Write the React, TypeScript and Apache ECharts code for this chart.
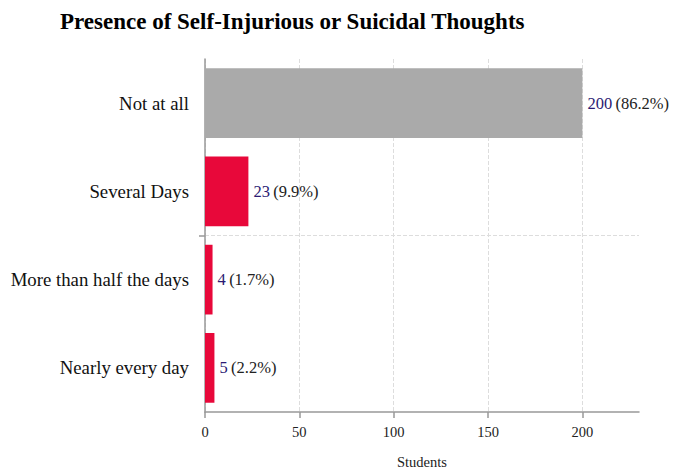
import React, { useEffect, useRef } from "react";
import * as echarts from "echarts";

const titleText = "Presence of Self-Injurious or Suicidal Thoughts";
const categories = ["Not at all", "Several Days", "More than half the days", "Nearly every day"];
const counts = [200, 23, 4, 5];
const percents = ["86.2%", "9.9%", "1.7%", "2.2%"];
const barColors = ["#aaaaaa", "#e8083a", "#e8083a", "#e8083a"];
const xTicks = [0, 50, 100, 150, 200];
const xMax = 230;
const xAxisName = "Students";

const FONT = "'Liberation Serif', 'Times New Roman', serif";

export default function App() {
  const ref = useRef<HTMLDivElement>(null);
  useEffect(() => {
    if (!ref.current) return;
    const chart = echarts.init(ref.current, undefined, { renderer: "svg" });
    chart.setOption({
      animation: false,
      backgroundColor: "#ffffff",
      title: {
        text: titleText,
        left: 55,
        top: 5,
        textStyle: { fontFamily: FONT, fontSize: 23, fontWeight: "bold", color: "#000" },
      },
      grid: { left: 205, right: 34, top: 59, bottom: 58, containLabel: false, outerBoundsMode: "none" },
      xAxis: {
        type: "value",
        min: 0,
        max: xMax,
        interval: 50,
        name: xAxisName,
        nameLocation: "middle",
        nameGap: 42,
        nameTextStyle: { fontFamily: FONT, fontSize: 14.5, color: "#222" },
        axisLine: { show: true, lineStyle: { color: "#999", width: 1.5 } },
        axisTick: { show: true, length: 6, customValues: xTicks, lineStyle: { color: "#999", width: 1.5 } },
        axisLabel: { fontFamily: FONT, fontSize: 14.5, color: "#222", margin: 12, customValues: xTicks },
        splitLine: { show: true, lineStyle: { color: "#dddddd", type: "dashed", width: 1 } },
      },
      yAxis: [
        {
          type: "category",
          data: categories,
          inverse: true,
          axisLine: { show: true, lineStyle: { color: "#999", width: 1.5 } },
          axisTick: { show: false },
          axisLabel: { fontFamily: FONT, fontSize: 18.8, color: "#111", margin: 16, padding: [0, 0, 6, 0] },
          splitLine: { show: false },
        },
        {
          type: "value",
          position: "left",
          min: 0,
          max: 2,
          interval: 2,
          axisLine: { show: false },
          axisLabel: { show: false },
          axisTick: { show: false },
          splitLine: { show: false },
          minorTick: { show: true, splitNumber: 2, length: 6, lineStyle: { color: "#999", width: 1.5 } },
          minorSplitLine: { show: true, lineStyle: { color: "#dddddd", type: "dashed", width: 1 } },
        },
      ],
      series: [
        {
          type: "bar",
          xAxisIndex: 0,
          yAxisIndex: 0,
          barWidth: "79%",
          data: counts.map((v, i) => ({ value: v, itemStyle: { color: barColors[i] } })),
          label: {
            show: true,
            position: "right",
            distance: 5,
            formatter: (p: any) => `{n|${p.value}} {p|(${percents[p.dataIndex]})}`,
            rich: {
              n: { fontFamily: FONT, fontSize: 16.5, color: "#2b1a73" },
              p: { fontFamily: FONT, fontSize: 16.5, color: "#222" },
            },
          },
        },
      ],
    });
    return () => chart.dispose();
  }, []);
  return <div ref={ref} style={{ position: "fixed", left: 0, top: 0, width: 673, height: 470 }} />;
}
